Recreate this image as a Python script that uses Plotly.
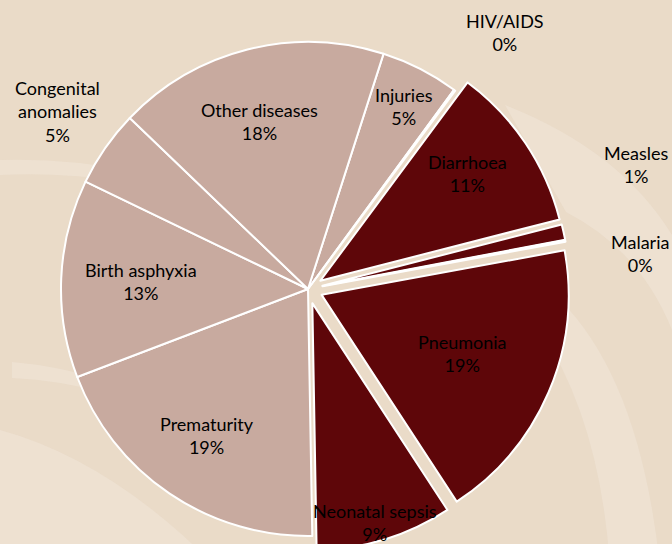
import plotly.graph_objects as go

# ---- data ----
causes = ["Injuries", "HIV/AIDS", "Diarrhoea", "Measles", "Malaria", "Pneumonia",
          "Neonatal sepsis", "Prematurity", "Birth asphyxia", "Congenital anomalies",
          "Other diseases"]
shares = [5.1, 0.1, 10.8, 1.0, 0.1, 18.6, 8.9, 19.4, 12.9, 5.0, 17.7]
infectious = [False, False, True, True, True, True, True, False, False, False, False]
label_text = ["Injuries", "HIV/AIDS", "Diarrhoea", "Measles", "Malaria", "Pneumonia",
              "Neonatal sepsis", "Prematurity", "Birth asphyxia", "Congenital<br>anomalies",
              "Other diseases"]

# ---- styling / layout ----
W, H = 672, 566
LIGHT = "#C8AA9F"
DARK = "#5E0609"
BG = "#EADBC8"
SWIRL = "#F1E6D8"
FONT = "Lato"
FSIZE = 18
PULL = 0.06

# label block centres in pixels (as placed in the reference)
label_xy = [(404, 106), (505, 33), (467, 174), (636, 165), (640, 254), (462, 353),
            (375, 522), (207, 435), (141, 281), (57, 112), (259, 122)]

colors = [DARK if f else LIGHT for f in infectious]
pulls = [PULL if f else 0 for f in infectious]

# pie box in pixels (center 308, 289; radius ~247 before pull)
cx, cy, r = 308, 289, 247
half = r * (1 + PULL)
dom_x = [(cx - half) / W, (cx + half) / W]
dom_y = [(H - (cy + half)) / H, (H - (cy - half)) / H]

fig = go.Figure(go.Pie(
    labels=causes,
    values=shares,
    sort=False,
    direction="clockwise",
    rotation=17.8,
    pull=pulls,
    marker=dict(colors=colors, line=dict(color="white", width=2)),
    textinfo="none",
    hoverinfo="label+percent",
    domain=dict(x=dom_x, y=dom_y),
    showlegend=False,
))

total = sum(shares)
for name, txt, (px, py) in zip(causes, label_text, label_xy):
    pct = round(shares[causes.index(name)] / total * 100)
    fig.add_annotation(
        x=px / W, y=(H - py) / H, xref="paper", yref="paper",
        text=f"{txt}<br>{pct}%", showarrow=False,
        font=dict(family=FONT, size=FSIZE, color="black"),
        xanchor="center", yanchor="middle", align="center",
    )


def ppath(cmds):
    out = []
    for c in cmds:
        if isinstance(c, str):
            out.append(c)
        else:
            out.append(f"{c[0] / W:.4f},{(H - c[1]) / H:.4f}")
    return " ".join(out)


# faint background swirls
swirls = [
    ["M", (505, 105), "Q", (620, 150), (672, 235), "L", (672, 330), "Q", (640, 250), (566, 212), "Z"],
    ["M", (560, 300), "Q", (640, 380), (660, 566), "L", (610, 566), "Q", (600, 420), (540, 330), "Z"],
    ["M", (0, 430), "Q", (110, 460), (215, 566), "L", (0, 566), "Z"],
    ["M", (0, 160), "Q", (70, 158), (135, 172), "L", (130, 182), "Q", (60, 172), (0, 175), "Z"],
    ["M", (12, 362), "Q", (60, 366), (110, 382), "L", (110, 394), "Q", (60, 380), (12, 378), "Z"],
]
for s in swirls:
    fig.add_shape(type="path", path=ppath(s), xref="paper", yref="paper",
                  fillcolor=SWIRL, opacity=0.55, line=dict(width=0), layer="below")

fig.update_layout(
    width=W, height=H,
    margin=dict(l=0, r=0, t=0, b=0),
    paper_bgcolor=BG, plot_bgcolor=BG,
)

fig.write_html("out.html", config={"displayModeBar": False},
               post_script="document.body.style.margin='0';")
